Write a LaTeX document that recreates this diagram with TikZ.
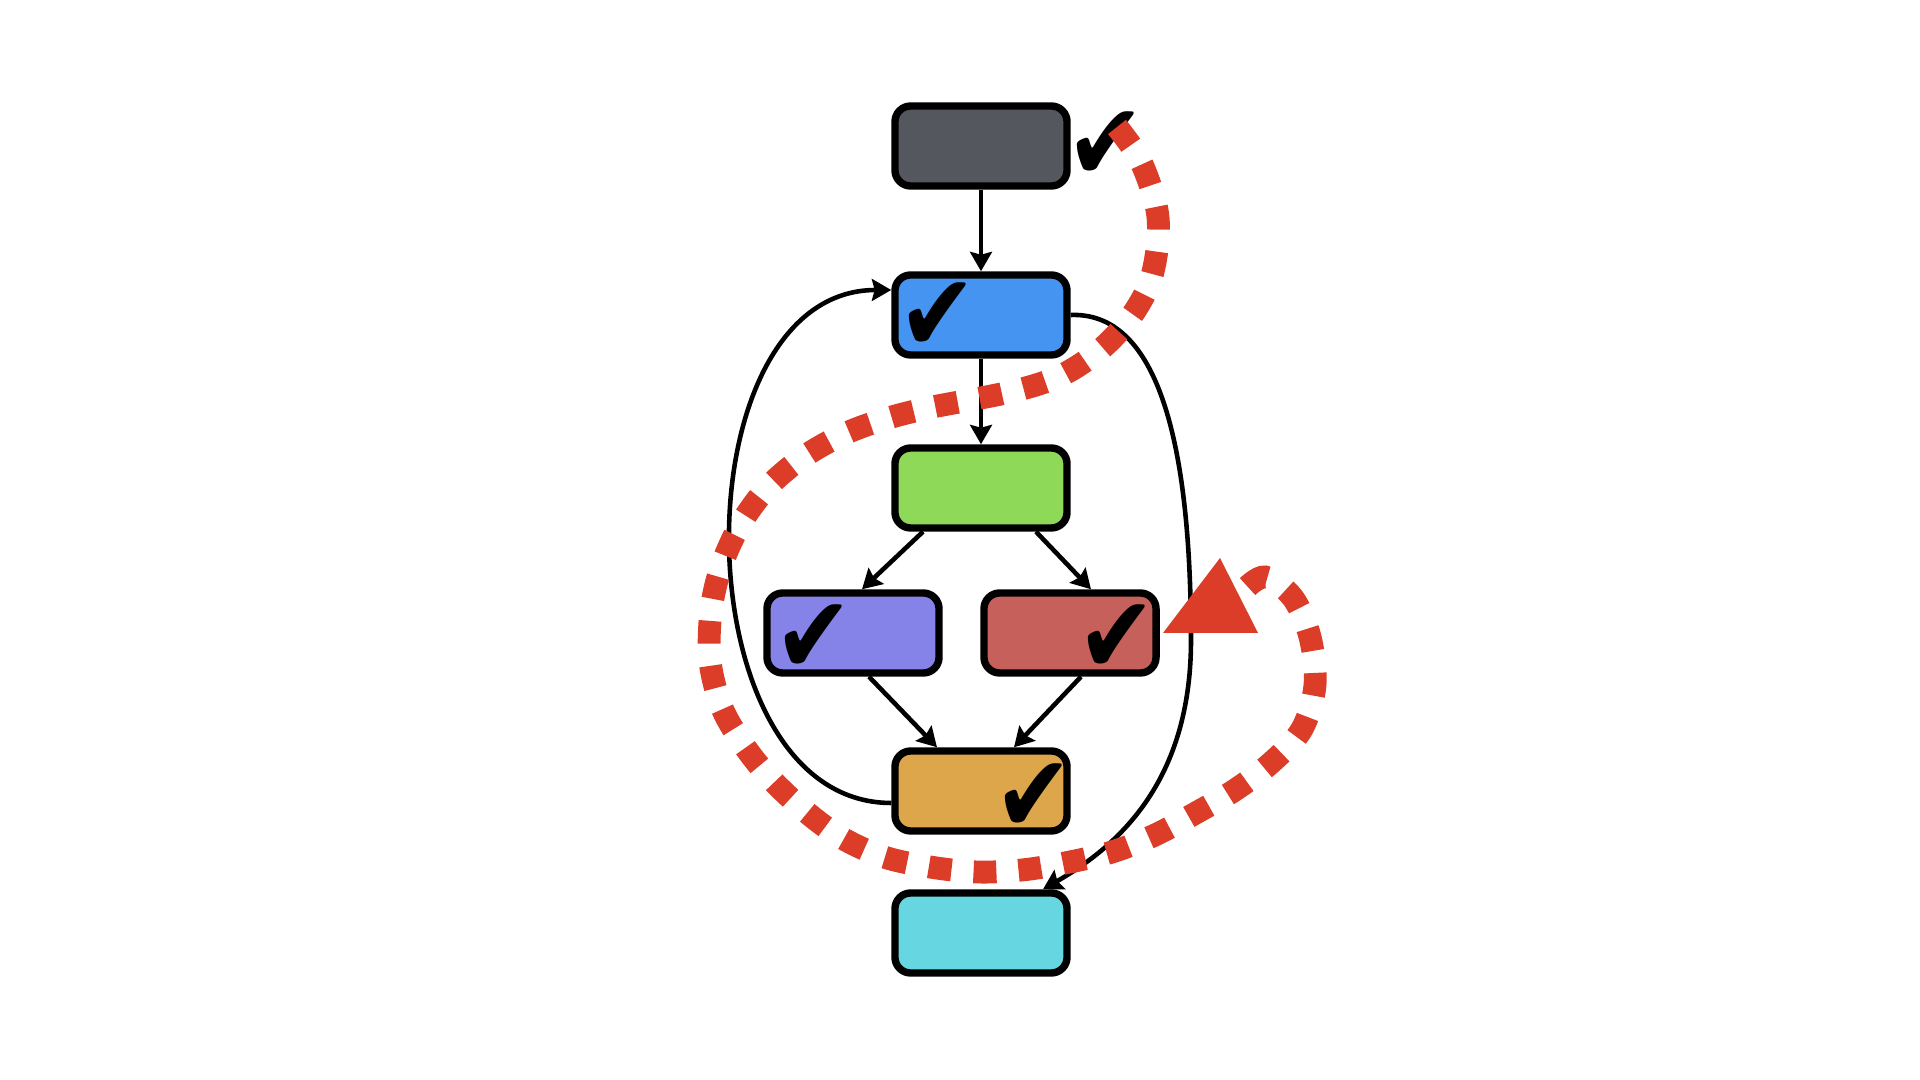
\documentclass[tikz,border=0pt]{standalone}
\usepackage{fontspec}
\usepackage{graphicx}
\newfontfamily\markfont{DejaVu Sans}
\usetikzlibrary{arrows.meta,calc,shadows}

\definecolor{boxgray}{RGB}{84,87,94}
\definecolor{boxblue}{RGB}{69,148,242}
\definecolor{boxgreen}{RGB}{142,217,87}
\definecolor{boxpurple}{RGB}{134,131,232}
\definecolor{boxred}{RGB}{197,96,90}
\definecolor{boxorange}{RGB}{222,166,75}
\definecolor{boxcyan}{RGB}{102,215,224}
\definecolor{loopred}{RGB}{219,61,41}

\newcommand{\donemark}{\scalebox{0.86}[1]{✔}}

\tikzset{
  stage/.style={draw=black, line width=2.1pt, rounded corners=4.5pt,
    minimum width=1.72cm, minimum height=0.8cm, inner sep=0pt,
    drop shadow={shadow xshift=0pt, shadow yshift=-0.8pt, opacity=0.3}},
  tick/.style={inner sep=0pt, font=\markfont\fontsize{31}{31}\selectfont},
  conn/.style={line width=1.3pt, -{Stealth[length=5.5pt,width=6.2pt,inset=0.8pt]}},
  retry/.style={loopred, line width=6.5pt, dash pattern=on 6.5pt off 6.3pt},
}

\begin{document}
\begin{tikzpicture}[x=0.01cm, y=-0.01cm]
  \useasboundingbox (0,0) rectangle (1920,1080);

  % stages
  \node[stage, fill=boxgray]   (gray)   at (981,146)  {};
  \node[stage, fill=boxblue]   (blue)   at (981,315)  {};
  \node[stage, fill=boxgreen]  (green)  at (981,488)  {};
  \node[stage, fill=boxpurple] (purple) at (853,633)  {};
  \node[stage, fill=boxred]    (red)    at (1070,633) {};
  \node[stage, fill=boxorange] (orange) at (981,791)  {};
  \node[stage, fill=boxcyan]   (cyan)   at (981,933)  {};

  % done marks
  \node[tick] (tgray)   at (1106,146) {\donemark};
  \node[tick] (tblue)   at (938,317)  {\donemark};
  \node[tick] (tpurple) at (814,639)  {\donemark};
  \node[tick] (tred)    at (1117,639) {\donemark};
  \node[tick] (torange) at (1034,798) {\donemark};

  % edges
  \draw[conn] (gray) -- (blue);
  \draw[conn] (blue) -- (green);
  \draw[conn] ($(green.south)+(-58,0)$) -- ($(purple.north)+(9,0)$);
  \draw[conn] ($(green.south)+(55,0)$) -- ($(red.north)+(21,0)$);
  \draw[conn] ($(purple.south)+(16,0)$) -- ($(orange.north)+(-44,0)$);
  \draw[conn] ($(red.south)+(11,0)$) -- ($(orange.north)+(33,0)$);

  % back edge and skip edge
  \draw[conn] ($(orange.west)+(0,12)$) .. controls (679,803) and (676,290) .. ($(blue.west)+(0,-25)$);
  \coordinate (rbend) at (1191,640);
  \draw[conn] (blue.east) .. controls (1150,312) and (1191,420) .. (rbend)
    .. controls (1191,780) and (1120,845) .. ($(cyan.north)+(62,0)$);

  % retry path
  \draw[retry] plot[smooth, tension=0.55] coordinates {
    (1117,127) (1140,160) (1156,205) (1158,240) (1150,282) (1130,318)
    (1100,350) (1060,376) (1010,392) (928,408) (882,420) (842,435)
    (802,458) (767,488) (740,525) (721,567) (711,611) (710,661)
    (722,708) (745,747) (771,779) (805,811) (842,838) (884,857)
    (930,867) (977,872) (1022,870) (1065,863) (1112,852) (1155,835)
    (1194,814) (1235,790) (1272,762) (1302,729) (1315,685) (1310,637)
    (1293,598) (1265,577) (1244,590)};
  \fill[loopred] (1220,558) -- (1163,633) -- (1258,633) -- cycle;
\end{tikzpicture}
\end{document}
